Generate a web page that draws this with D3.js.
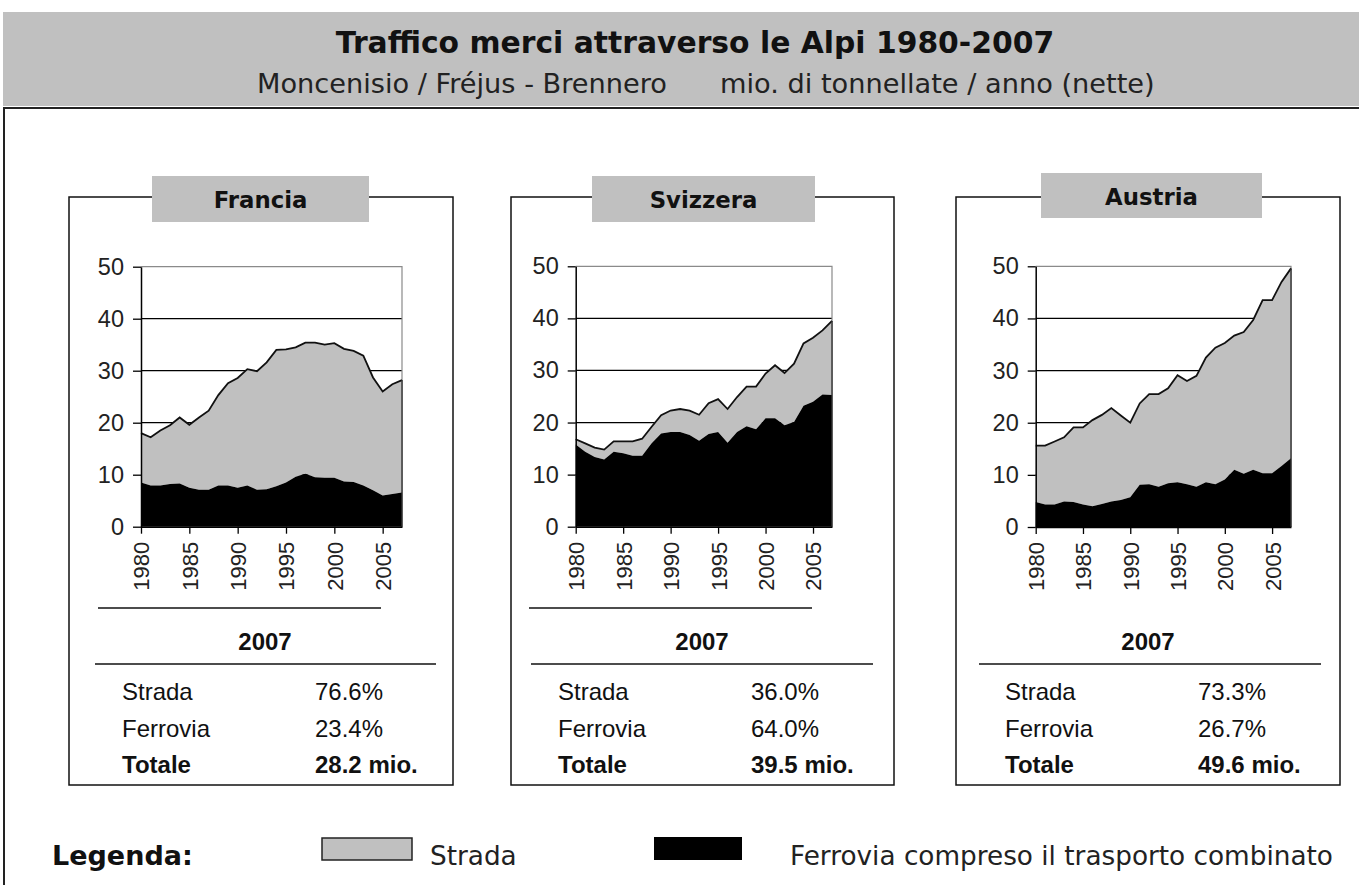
<!DOCTYPE html>
<html>
<head>
<meta charset="utf-8">
<script src="https://cdn.jsdelivr.net/npm/d3@7"></script>
<style>
  html, body { margin: 0; padding: 0; background: #fff; }
  svg { display: block; }
</style>
</head>
<body>
<svg id="chart" width="1359" height="885"></svg>
<script>
// ---------------- DATA ----------------
const years = [1980,1981,1982,1983,1984,1985,1986,1987,1988,1989,1990,1991,1992,1993,
               1994,1995,1996,1997,1998,1999,2000,2001,2002,2003,2004,2005,2006,2007];
const xTickYears = [1980,1985,1990,1995,2000,2005];
const yTickValues = [0,10,20,30,40,50];
const gridValues = [10,20,30,40];

const countries = ["Francia","Svizzera","Austria"];

// Totale (strada + ferrovia), mio. t
const franciaTotale  = [18.0,17.2,18.5,19.5,21.0,19.6,21.0,22.3,25.3,27.6,28.6,30.3,29.9,31.6,
                        34.0,34.1,34.5,35.4,35.4,35.0,35.3,34.2,33.8,32.9,28.7,26.0,27.4,28.2];
const franciaFerrovia = [8.5,7.9,7.9,8.2,8.3,7.5,7.1,7.1,7.9,7.9,7.5,7.9,7.1,7.2,
                         7.8,8.5,9.6,10.2,9.5,9.4,9.4,8.7,8.6,7.9,7.0,6.0,6.3,6.6];

const svizzeraTotale  = [16.8,16.0,15.2,14.8,16.4,16.4,16.4,16.9,19.2,21.4,22.3,22.6,22.3,21.5,
                         23.7,24.5,22.6,24.9,26.9,26.9,29.4,31.0,29.5,31.3,35.2,36.3,37.7,39.5];
const svizzeraFerrovia = [15.8,14.4,13.4,12.9,14.4,14.1,13.6,13.6,16.0,17.9,18.2,18.2,17.6,16.5,
                          17.8,18.2,16.1,18.2,19.3,18.7,20.8,20.8,19.5,20.1,23.2,24.0,25.4,25.3];

const austriaTotale  = [15.6,15.6,16.4,17.2,19.1,19.1,20.5,21.5,22.8,21.4,20.0,23.7,25.5,25.5,
                        26.6,29.1,28.0,29.0,32.5,34.4,35.3,36.7,37.4,39.7,43.5,43.5,47.0,49.6];
const austriaFerrovia = [4.8,4.3,4.3,4.9,4.8,4.3,4.0,4.4,4.9,5.2,5.7,8.1,8.2,7.7,
                         8.4,8.6,8.2,7.7,8.6,8.2,9.1,11.0,10.2,11.0,10.3,10.3,11.7,13.2];

const tableYear = "2007";
const tableLabels = ["Strada","Ferrovia","Totale"];
const franciaTable  = ["76.6%","23.4%","28.2 mio."];
const svizzeraTable = ["36.0%","64.0%","39.5 mio."];
const austriaTable  = ["73.3%","26.7%","49.6 mio."];

const titleText = "Traffico merci attraverso le Alpi 1980-2007";
const subtitleLeft = "Moncenisio / Fréjus - Brennero";
const subtitleRight = "mio. di tonnellate / anno (nette)";
const legendTitle = "Legenda:";
const legendLabels = ["Strada","Ferrovia compreso il trasporto combinato"];

// ---------------- LAYOUT ----------------
const layout = [
  {box:[69,197,453,785], tab:[152,176,369,222], tabBase:208, plot:[141,266.7,402,526.7],
   sep:[98,381], line2:[95,436], center:265, labX:122, valX:315},
  {box:[511,197,894,785], tab:[592,176,815,222], tabBase:208, plot:[575.7,266.3,832,526.7],
   sep:[529,812], line2:[531,873], center:702, labX:558, valX:751},
  {box:[956,197,1340,785], tab:[1041,173,1262,218], tabBase:205, plot:[1035.7,266.3,1291,527],
   sep:null, line2:[979,1321], center:1148, labX:1005, valX:1198}
];

const series = [
  {total: franciaTotale, rail: franciaFerrovia, table: franciaTable},
  {total: svizzeraTotale, rail: svizzeraFerrovia, table: svizzeraTable},
  {total: austriaTotale, rail: austriaFerrovia, table: austriaTable}
];

const GRAY = "#c0c0c0";
const SANS = "'Liberation Sans', Arial, sans-serif";
const VERD = "'DejaVu Sans', Verdana, sans-serif";

const svg = d3.select("#chart");
svg.append("rect").attr("width",1359).attr("height",885).attr("fill","#fff");

// Title band
svg.append("rect").attr("x",3).attr("y",12).attr("width",1356).attr("height",94).attr("fill",GRAY);
svg.append("text").attr("x",695).attr("y",53).attr("text-anchor","middle")
  .style("font-family",VERD).style("font-weight","bold").style("font-size","29.8px")
  .attr("fill","#111").text(titleText);
svg.append("text").attr("x",257).attr("y",93)
  .style("font-family",VERD).style("font-size","27.2px").attr("fill","#222").text(subtitleLeft);
svg.append("text").attr("x",720).attr("y",93)
  .style("font-family",VERD).style("font-size","27.2px").attr("fill","#222").text(subtitleRight);

// Main frame
svg.append("path").attr("d","M4,885 V108 H1359").attr("fill","none")
  .attr("stroke","#222").attr("stroke-width",2);

countries.forEach((name, i) => {
  const L = layout[i], S = series[i];
  const g = svg.append("g");
  // panel box
  g.append("rect").attr("x",L.box[0]).attr("y",L.box[1])
    .attr("width",L.box[2]-L.box[0]).attr("height",L.box[3]-L.box[1])
    .attr("fill","none").attr("stroke","#111").attr("stroke-width",1.5);
  // tab
  g.append("rect").attr("x",L.tab[0]).attr("y",L.tab[1])
    .attr("width",L.tab[2]-L.tab[0]).attr("height",L.tab[3]-L.tab[1]).attr("fill",GRAY);
  g.append("text").attr("x",(L.tab[0]+L.tab[2])/2).attr("y",L.tabBase).attr("text-anchor","middle")
    .style("font-family",VERD).style("font-weight","bold").style("font-size","22.8px")
    .attr("fill","#111").text(name);

  const [pl,pt,pr,pb] = L.plot;
  const x = d3.scaleLinear().domain([years[0], years[years.length-1]]).range([pl,pr]);
  const y = d3.scaleLinear().domain([0,50]).range([pb,pt]);

  const data = years.map((yr,k) => ({year: yr, total: S.total[k], rail: S.rail[k]}));

  // gridlines
  g.selectAll(".grid").data(gridValues).join("line")
    .attr("x1",pl).attr("x2",pr).attr("y1",d=>y(d)).attr("y2",d=>y(d))
    .attr("stroke","#000").attr("stroke-width",1.2);
  // plot border top & right
  g.append("path").attr("d",`M${pl},${y(50)} H${pr} V${pb}`).attr("fill","none")
    .attr("stroke","#8a8a8a").attr("stroke-width",1.2);

  // road area (between rail and total)
  g.append("path").datum(data)
    .attr("d", d3.area().x(d=>x(d.year)).y0(d=>y(d.rail)).y1(d=>y(d.total)))
    .attr("fill",GRAY);
  // rail area
  g.append("path").datum(data)
    .attr("d", d3.area().x(d=>x(d.year)).y0(y(0)).y1(d=>y(d.rail)))
    .attr("fill","#000");
  // outline of total
  g.append("path").datum(data)
    .attr("d", d3.line().x(d=>x(d.year)).y(d=>y(d.total)))
    .attr("fill","none").attr("stroke","#111").attr("stroke-width",1.8);
  const last = data[data.length-1];
  g.append("line").attr("x1",x(last.year)).attr("x2",x(last.year))
    .attr("y1",y(last.total)).attr("y2",y(0)).attr("stroke","#333").attr("stroke-width",1.4);

  // axes
  const ya = g.append("g").attr("transform",`translate(${pl},0)`)
    .call(d3.axisLeft(y).tickValues(yTickValues).tickSize(8).tickSizeOuter(0).tickPadding(9));
  ya.select(".domain").attr("stroke","#000").attr("stroke-width",1.5);
  ya.selectAll(".tick line").attr("stroke","#000").attr("stroke-width",1.3);
  ya.selectAll("text").style("font-family",SANS).style("font-size","23.5px").attr("fill","#222");

  const xa = g.append("g").attr("transform",`translate(0,${pb})`)
    .call(d3.axisBottom(x).tickValues(xTickYears).tickFormat(d3.format("d"))
      .tickSize(7).tickSizeOuter(0));
  xa.select(".domain").attr("stroke","#000").attr("stroke-width",1.5);
  xa.selectAll(".tick line").attr("stroke","#000").attr("stroke-width",1.3);
  xa.selectAll("text").style("font-family",SANS).style("font-size","22px").attr("fill","#222")
    .attr("transform","rotate(-90)").attr("x",-15).attr("y",0).attr("dy","0.36em")
    .style("text-anchor","end");

  // separator below x labels
  if (L.sep) {
    g.append("line").attr("x1",L.sep[0]).attr("x2",L.sep[1]).attr("y1",608).attr("y2",608)
      .attr("stroke","#111").attr("stroke-width",1.3);
  }
  // table
  g.append("text").attr("x",L.center).attr("y",650).attr("text-anchor","middle")
    .style("font-family",SANS).style("font-weight","bold").style("font-size","24px")
    .attr("fill","#111").text(tableYear);
  g.append("line").attr("x1",L.line2[0]).attr("x2",L.line2[1]).attr("y1",664).attr("y2",664)
    .attr("stroke","#111").attr("stroke-width",1.3);
  const rowY = [700,737,773];
  tableLabels.forEach((lab,r) => {
    const bold = r === 2;
    g.append("text").attr("x",L.labX).attr("y",rowY[r])
      .style("font-family",SANS).style("font-size","24px").style("font-weight",bold?"bold":"normal")
      .attr("fill","#111").text(lab);
    g.append("text").attr("x",L.valX).attr("y",rowY[r])
      .style("font-family",SANS).style("font-size","24px").style("font-weight",bold?"bold":"normal")
      .attr("fill","#111").text(S.table[r]);
  });
});

// Legend
svg.append("text").attr("x",52).attr("y",865)
  .style("font-family",VERD).style("font-weight","bold").style("font-size","27px")
  .attr("fill","#111").text(legendTitle);
svg.append("rect").attr("x",322).attr("y",838).attr("width",90).attr("height",22)
  .attr("fill",GRAY).attr("stroke","#222").attr("stroke-width",1.5);
svg.append("text").attr("x",430).attr("y",865)
  .style("font-family",VERD).style("font-size","26.3px").attr("fill","#222").text(legendLabels[0]);
svg.append("rect").attr("x",654).attr("y",837).attr("width",88).attr("height",23).attr("fill","#000");
svg.append("text").attr("x",790).attr("y",865)
  .style("font-family",VERD).style("font-size","26.3px").attr("fill","#222").text(legendLabels[1]);
</script>
</body>
</html>
